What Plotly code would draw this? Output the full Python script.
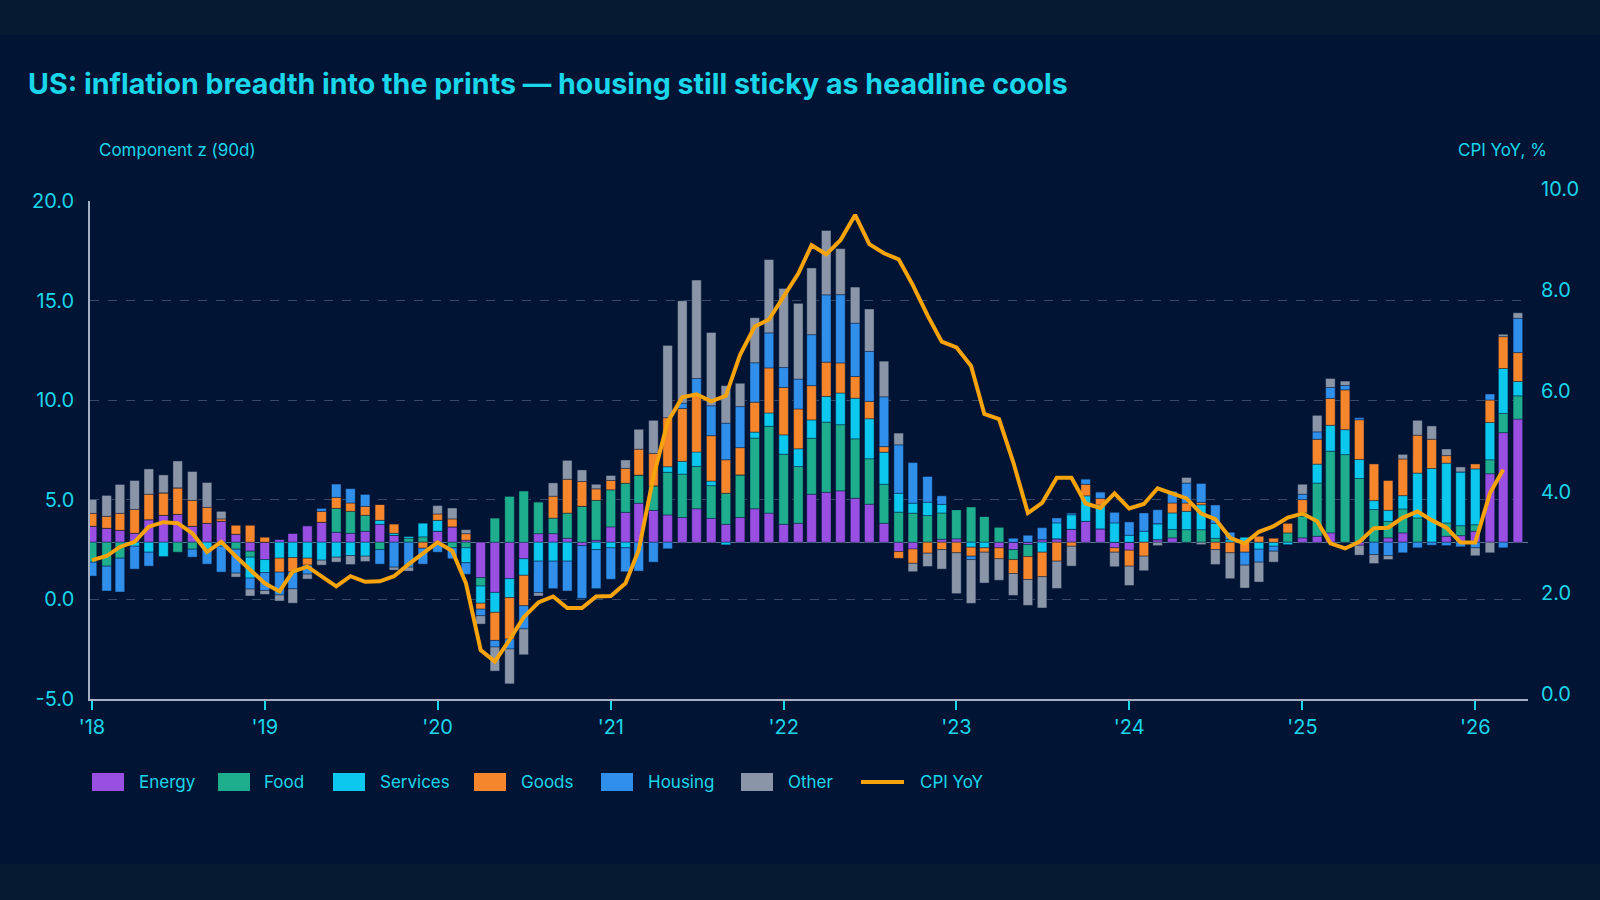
import pandas as pd
import plotly.graph_objects as go

# ---------------- data ----------------
months = pd.date_range("2018-01-01", "2026-04-01", freq="MS")   # 100 monthly prints

energy = [0.8, 0.7, 0.6, 0.45, 1.13, 1.35, 1.4, 0.8, 0.95, 1.05,
          0.4, -0.45, -0.87, 0.15, 0.45, 0.83, 1.0, 0.5, 0.45, 0.55,
          0.9, 0.35, 0, 0, 0.55, 0.77, 0.1, -1.78, -2.52, -1.83,
          -0.83, 0.43, 0.43, 0.2, -0.17, 0.1, 0.77, 1.5, 1.96, 1.6,
          1.37, 1.24, 1.68, 1.2, 0.9, 1.24, 1.68, 1.46, 0.9, 0.95,
          2.41, 2.51, 2.58, 2.21, 1.91, 0.95, -0.47, -0.34, 0, 0.15,
          0.17, 0, 0, -0.28, -0.37, -0.12, 0.13, 0.17, 0.65, 1.05,
          0.67, -0.28, -0.4, 0, 0.13, 0.22, 0, 0, 0, 0,
          0, 0, 0, 0, 0.22, 0.3, 0.47, 0, -0.15, 0,
          0.22, 0.47, 0, 0, 0.3, 0.33, 0.55, 3.44, 5.5, 6.18]
food = [-1.0, -1.2, -0.8, 0, 0, 0, -0.5, -0.35, 0, 0,
        -0.35, -0.3, 0, 0, 0, 0, 0, 1.2, 1.1, 0.8,
        -0.37, 0, 0.2, 0.27, 0, -0.28, -0.28, -0.42, 1.21, 2.3,
        2.57, 1.6, 0.78, 1.26, 1.8, 2.0, 1.86, 1.46, 1.41, 1.23,
        2.14, 2.18, 2.13, 1.64, 1.56, 2.14, 3.55, 4.36, 3.52, 2.85,
        2.81, 3.52, 3.32, 2.98, 2.28, 1.96, 1.51, 1.46, 1.34, 1.32,
        1.47, 1.77, 1.3, 0.77, -0.5, -0.6, 0, 0, 0, 0,
        0, 0, 0, 0, 0, 0.42, 0.63, 0.63, 0.2, 0,
        0, 0, 0, 0.47, 1.08, 2.67, 4.1, 4.4, 3.2, 1.64,
        0.83, 1.2, 1.22, 0, 0.67, 0.5, 0.33, 0.7, 0.97, 1.17]
services = [0, 0, 0, -0.2, -0.5, -0.72, 0, 0, -0.35, -0.2,
            0, -1.05, -0.65, -0.8, -0.77, -0.8, -0.9, -0.75, -0.67, -0.7,
            0.2, 0.1, 0.1, 0.7, 0.55, 0, -0.75, -0.86, -1.0, -0.95,
            -0.83, -0.95, -0.95, -0.95, 0, -0.37, -0.28, -0.28, 0, 0,
            0.28, 0.64, 0.72, 0.23, -0.13, 0, 0.3, 0.67, 0.97, 0.89,
            0.92, 1.29, 1.59, 2.04, 2.01, 1.61, 0.95, 0.5, 0.67, 0.43,
            0, -0.25, -0.28, 0, 0, 0, -0.5, 0.8, 0.73, 1.28,
            1.2, 0.97, 0.35, 0.55, 0.8, 0.83, 0.92, 1.25, 0.75, 0.13,
            0.25, -0.35, -0.2, -0.12, 0.17, 0.95, 1.3, 1.25, 0.95, 0.45,
            0.55, 0.67, 2.25, 3.7, 3.0, 2.7, 2.8, 1.87, 2.25, 0.72]
goods = [0.65, 0.6, 0.85, 1.2, 1.28, 1.13, 1.33, 1.3, 0.8, 0.12,
         0.45, 0.85, 0.25, -0.7, -0.72, -0.35, 0.55, 0.55, 0.42, 0.45,
         0.8, 0.46, 0, -0.3, 0.32, 0.4, 0.33, -0.3, -1.41, -2.08,
         -1.53, 0, 1.1, 1.7, 1.25, 0.58, 0.47, 0.75, 1.3, 1.63,
         2.46, 2.65, 2.85, 2.28, 1.68, 1.37, 1.5, 2.26, 2.38, 2.0,
         1.72, 1.72, 1.51, 1.09, 0.87, 0.28, -0.34, -0.72, -0.55, -0.37,
         -0.53, -0.45, -0.22, -0.55, -0.7, -1.15, -1.23, -0.95, -0.2, 0.58,
         0.33, -0.22, -0.8, -0.7, 0, 0.5, 0.42, 0.12, -0.37, -0.53,
         -0.5, 0.3, 0.2, 0.5, 0.67, 1.25, 1.35, 2.0, 2.0, 1.84,
         1.5, 1.84, 1.9, 1.47, 0.38, 0, 0.25, 1.13, 1.6, 1.45]
housing = [-0.7, -1.25, -1.7, -1.15, -0.7, 0, 0, -0.4, -0.75, -1.3,
           -1.2, -0.55, -0.9, -1.15, -0.85, -0.45, 0.15, 0.67, 0.72, 0.6,
           -0.73, -1.25, -1.25, -0.8, -0.5, -0.55, -0.58, -0.33, -0.33, -0.5,
           -1.16, -1.58, -1.38, -1.5, -2.65, -1.96, -1.58, -1.2, -1.45, -1.0,
           -0.33, 0.27, 0.84, 1.5, 1.84, 2.06, 1.98, 1.76, 1.0, 1.5,
           2.56, 3.38, 3.43, 2.68, 2.51, 2.5, 2.43, 2.04, 1.29, 0.43,
           0, -0.17, 0, 0, 0.2, 0.35, 0.6, 0.25, 0.08, 0.27,
           0.33, 0.53, 0.67, 0.92, 0.7, 0.6, 1.0, 0.95, 0.92, 0.37,
           -0.65, -0.65, -0.25, 0, 0.27, 0.37, 0.55, 0.22, 0.1, -0.62,
           -0.67, -0.53, -0.28, -0.15, -0.17, -0.23, -0.28, 0.3, -0.28, 1.72]
other = [0.7, 1.05, 1.45, 1.45, 1.27, 0.9, 1.35, 1.45, 1.25, 0.38,
         -0.2, -0.35, -0.2, -0.3, -0.72, -0.25, -0.25, -0.25, -0.45, -0.27,
         0, -0.15, -0.2, 0, 0.42, 0.55, 0.2, -0.42, -1.21, -1.75,
         -1.3, -0.17, 0.67, 0.95, 0.58, 0.23, 0.25, 0.42, 1.0, 1.66,
         3.63, 5.14, 4.94, 3.68, 1.88, 1.17, 2.26, 3.68, 3.97, 3.8,
         3.35, 3.23, 2.31, 1.81, 2.13, 1.79, 0.59, -0.42, -0.67, -0.98,
         -2.05, -2.2, -1.55, -1.08, -1.1, -1.3, -1.57, -1.37, -1.0, 0,
         0, -0.73, -0.97, -0.73, -0.17, 0, 0.28, -0.12, -0.75, -1.3,
         -1.15, -1.0, -0.55, 0, 0.5, 0.83, 0.45, 0.22, -0.5, -0.45,
         -0.2, 0.23, 0.75, 0.67, 0.33, 0.25, -0.4, -0.53, 0.12, 0.28]
cpi_yoy = [2.65, 2.73, 2.91, 3.01, 3.31, 3.40, 3.38, 3.18, 2.81, 3.01,
           2.72, 2.45, 2.19, 2.03, 2.42, 2.52, 2.32, 2.13, 2.33, 2.22,
           2.23, 2.33, 2.57, 2.79, 3.00, 2.83, 2.19, 0.87, 0.64, 1.07,
           1.52, 1.81, 1.93, 1.70, 1.70, 1.93, 1.94, 2.19, 2.85, 4.30,
           5.38, 5.87, 5.93, 5.79, 5.90, 6.71, 7.27, 7.41, 7.86, 8.32,
           8.88, 8.70, 8.98, 9.48, 8.90, 8.72, 8.60, 8.09, 7.49, 6.97,
           6.86, 6.49, 5.54, 5.44, 4.59, 3.58, 3.78, 4.28, 4.28, 3.77,
           3.68, 3.97, 3.67, 3.76, 4.07, 3.96, 3.87, 3.57, 3.46, 3.09,
           2.98, 3.21, 3.32, 3.49, 3.57, 3.42, 2.98, 2.88, 3.01, 3.28,
           3.29, 3.49, 3.61, 3.44, 3.29, 3.00, 3.00, 3.97, 4.44]   # through Mar 2026

components = ["Energy", "Food", "Services", "Goods", "Housing", "Other"]
series = [energy, food, services, goods, housing, other]
colors = ["#9a4fe3", "#1fae8d", "#0cc8ee", "#f5862b", "#2f8fea", "#8a96a8"]
cpi_color = "#f7a30c"

left_ticks = [-5, 0, 5, 10, 15, 20]
left_labels = ["-5.0", "0.0", "5.0", "10.0", "15.0", "20.0"]
right_ticks = [0, 2, 4, 6, 8, 10]
year_ticks = pd.date_range("2018-01-01", "2026-01-01", freq="YS")
year_labels = ["'" + d.strftime("%y") for d in year_ticks]

# ---------------- style ----------------
CYAN = "#1ad6ea"
PANEL = "#011434"
STRIP = "#061b31"
FONT = "Inter"
bar_offset = 2.87  # bar zero sits at this level of the left scale

W, H = 1600, 900
ml, mr, mt, mb = 90, 72, 188, 201
pw, ph = W - ml - mr, H - mt - mb
left_top = (H - mb - 201) / ph          # left scale / bars end at the 20.0 gridline


def px_x(x):
    return (x - ml) / pw


def px_y(y):
    return (H - mb - y) / ph


fig = go.Figure()
# anchor trace for the labelled left scale (draws nothing)
fig.add_trace(go.Scatter(x=[months[0]], y=[None], yaxis="y", mode="lines",
                         showlegend=False, hoverinfo="skip"))
for name, vals, col in zip(components, series, colors):
    fig.add_trace(go.Bar(
        x=months, y=vals, name=name, yaxis="y3", showlegend=False,
        marker=dict(color=col, line=dict(width=0.6, color="rgba(1,20,52,0.7)")),
    ))
fig.add_trace(go.Scatter(
    x=months[:len(cpi_yoy)], y=cpi_yoy, name="CPI YoY", yaxis="y2", mode="lines",
    showlegend=False, line=dict(color=cpi_color, width=4),
))

fig.update_layout(
    width=W, height=H,
    margin=dict(l=ml, r=mr, t=mt, b=mb, pad=0),
    paper_bgcolor=STRIP, plot_bgcolor="rgba(0,0,0,0)",
    barmode="relative", bargap=0.28,
    font=dict(family=FONT, color=CYAN),
    title=dict(text="US: inflation breadth into the prints \u2014 housing still sticky as headline cools",
               xref="container", yref="container", x=28 / W, y=1 - 84 / H,
               xanchor="left", yanchor="middle",
               font=dict(family=FONT, size=28.6, color=CYAN, weight=700)),
    xaxis=dict(type="date", range=["2017-12-27 19:00", "2026-04-22 10:00"],
               tickvals=list(year_ticks), ticktext=year_labels,
               ticks="outside", ticklen=9, tickwidth=1.5, tickcolor=CYAN,
               tickfont=dict(size=20, color=CYAN),
               showgrid=False, showline=True, linecolor="#a4b0c2", linewidth=1.5,
               zeroline=False),
    yaxis=dict(domain=[0, left_top], range=[-5, 20], tickvals=left_ticks, ticktext=left_labels,
               tickfont=dict(size=20, color=CYAN), ticklabelstandoff=10,
               showgrid=True, gridcolor="rgba(120,140,170,0.45)", griddash="dash", gridwidth=1,
               showline=True, linecolor="#a4b0c2", linewidth=1.5, zeroline=False),
    yaxis3=dict(range=[-5 - bar_offset, 20 - bar_offset], overlaying="y",
                showticklabels=False, showgrid=False, showline=False, ticks="",
                zeroline=True, zerolinecolor="rgba(110,150,170,0.8)", zerolinewidth=1),
    yaxis2=dict(domain=[0, 1], anchor="x", side="right",
                range=[-5 / 50.55, 10 + 0.6 / 50.55], tickvals=right_ticks, tickformat=".1f",
                tickfont=dict(size=20, color=CYAN), ticklabelstandoff=12,
                showgrid=False, zeroline=False, showline=False),
    showlegend=False,
)

# page panel behind everything
fig.add_shape(type="rect", xref="paper", yref="paper", layer="below",
              x0=px_x(0), x1=px_x(W), y0=px_y(864), y1=px_y(35),
              fillcolor=PANEL, line=dict(width=0))

fig.add_annotation(text="Component z (90d)", xref="paper", yref="paper",
                   x=px_x(97), y=px_y(150), xanchor="left", yanchor="middle",
                   showarrow=False, font=dict(size=17, color=CYAN))
fig.add_annotation(text="CPI YoY, %", xref="paper", yref="paper",
                   x=px_x(1549), y=px_y(150), xanchor="right", yanchor="middle",
                   showarrow=False, font=dict(size=17, color=CYAN))

# legend row (swatch + label for each series)
legend_swatch_x = [92, 218, 333, 474, 601, 741]
legend_text_x = [137, 262, 378, 519, 646, 786]
ly = 782
for name, col, sx, tx in zip(components, colors, legend_swatch_x, legend_text_x):
    fig.add_shape(type="rect", xref="paper", yref="paper",
                  x0=px_x(sx), x1=px_x(sx + 32), y0=px_y(ly + 9), y1=px_y(ly - 9),
                  fillcolor=col, line=dict(width=0))
    fig.add_annotation(text=name, xref="paper", yref="paper", x=px_x(tx), y=px_y(ly),
                       xanchor="left", yanchor="middle", showarrow=False,
                       font=dict(size=17, color=CYAN))
fig.add_shape(type="line", xref="paper", yref="paper",
              x0=px_x(861), x1=px_x(904), y0=px_y(ly), y1=px_y(ly),
              line=dict(color=cpi_color, width=4))
fig.add_annotation(text="CPI YoY", xref="paper", yref="paper", x=px_x(918), y=px_y(ly),
                   xanchor="left", yanchor="middle", showarrow=False,
                   font=dict(size=17, color=CYAN))

fig.write_html("out.html")
